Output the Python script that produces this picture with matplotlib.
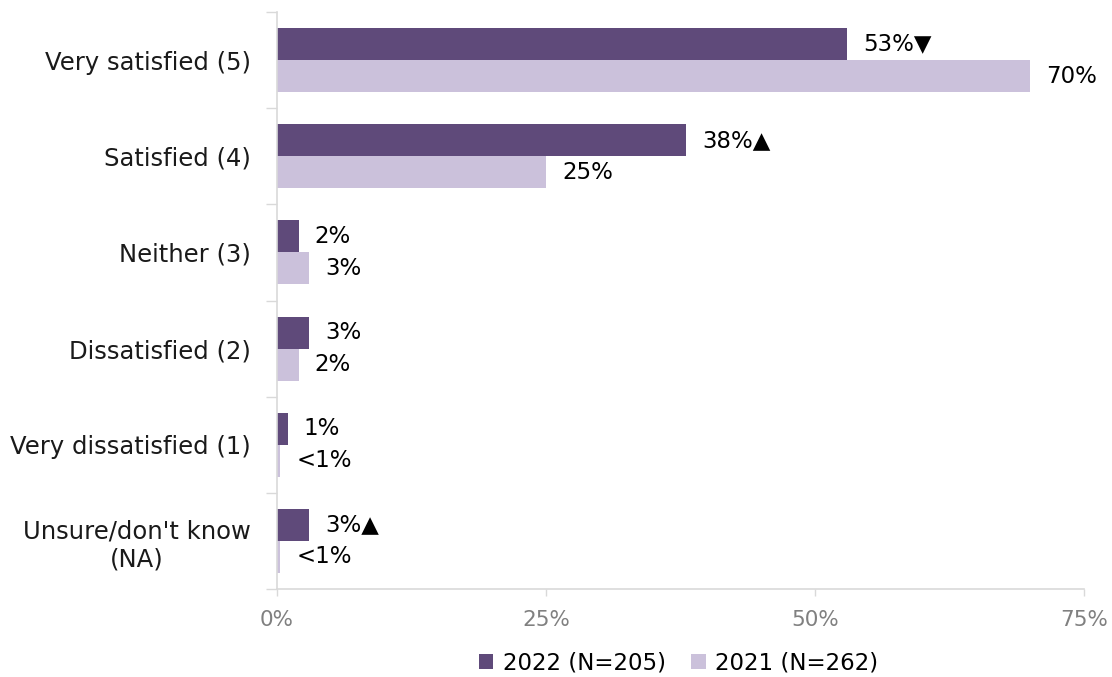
import matplotlib
matplotlib.use("Agg")
import matplotlib.pyplot as plt
import numpy as np

# Survey response categories, top to bottom
categories = [
    "Very satisfied (5)",
    "Satisfied (4)",
    "Neither (3)",
    "Dissatisfied (2)",
    "Very dissatisfied (1)",
    "Unsure/don't know\n(NA)",
]
values_2022 = [53, 38, 2, 3, 1, 3]
values_2021 = [70, 25, 3, 2, 0.3, 0.3]
labels_2022 = ["53%▼", "38%▲", "2%", "3%", "1%", "3%▲"]
labels_2021 = ["70%", "25%", "3%", "2%", "<1%", "<1%"]
series_names = ["2022 (N=205)", "2021 (N=262)"]
x_ticks = [0, 25, 50, 75]
x_tick_labels = ["0%", "25%", "50%", "75%"]

color_2022 = "#5f4a7a"
color_2021 = "#cbc1db"
axis_grey = "#d9d9d9"

plt.rcParams["font.family"] = ["DejaVu Sans"]

fig = plt.figure(figsize=(11.12, 6.77), dpi=100)
ax = fig.add_axes([277 / 1112, 1 - 589 / 677, (1084 - 277) / 1112, (589 - 12) / 677])

y = np.arange(len(categories))
h = 1 / 3
b1 = ax.barh(y - h / 2, values_2022, height=h, color=color_2022, label=series_names[0])
b2 = ax.barh(y + h / 2, values_2021, height=h, color=color_2021, label=series_names[1])

for bars, labels in ((b1, labels_2022), (b2, labels_2021)):
    for rect, lab in zip(bars, labels):
        ax.annotate(lab, (rect.get_width(), rect.get_y() + rect.get_height() / 2),
                    xytext=(16, 0), textcoords="offset pixels",
                    ha="left", va="center", fontsize=16.5, color="#000000")

ax.set_xlim(0, 75)
ax.set_ylim(len(categories) - 0.5, -0.5)

ax.set_xticks(x_ticks)
ax.set_xticklabels(x_tick_labels, fontsize=15.5, color="#808080")
ax.tick_params(axis="x", length=5, width=1, color=axis_grey, pad=10)

ax.set_yticks(y)
ax.set_yticklabels(categories, fontsize=17.5, color="#1a1a1a", ha="right", multialignment="center")
ax.tick_params(axis="y", which="major", length=0, pad=19)
ax.set_yticks(np.arange(-0.5, len(categories)), minor=True)
ax.tick_params(axis="y", which="minor", length=8, width=1, color=axis_grey)

for s in ("top", "right"):
    ax.spines[s].set_visible(False)
for s in ("left", "bottom"):
    ax.spines[s].set_color(axis_grey)
    ax.spines[s].set_linewidth(1.2)

fig.legend(handles=[b1, b2], labels=series_names, loc="center",
           bbox_to_anchor=(0.61, 0.021), ncol=2, frameon=False,
           fontsize=16.5, handlelength=0.65, handleheight=0.65,
           handletextpad=0.4, columnspacing=1.1)

fig.savefig("out.png", dpi=100)
